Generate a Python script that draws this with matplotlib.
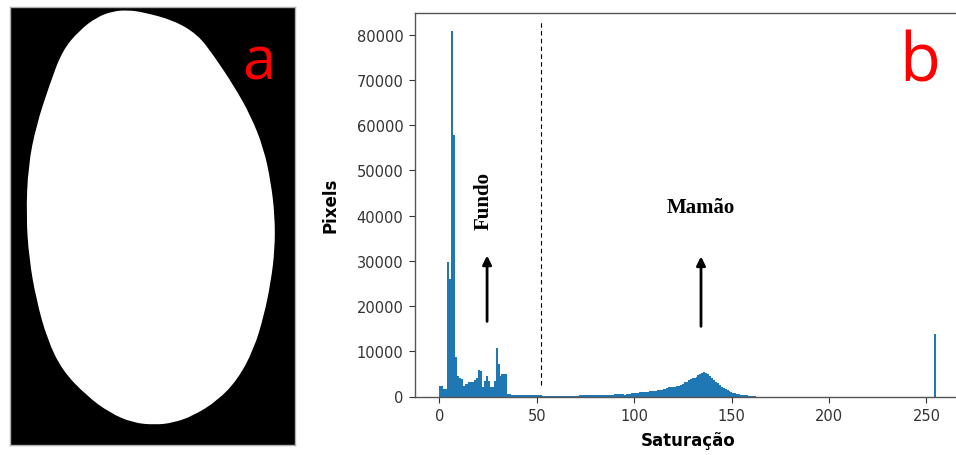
import numpy as np
import matplotlib
matplotlib.use("Agg")
import matplotlib.pyplot as plt
from matplotlib.patches import PathPatch
from matplotlib.path import Path

# ---------------- data ----------------
# histogram of saturation levels (0..255), counts per level
low_counts = [2300, 2300, 1600, 1600, 29700, 26000, 80800, 57800, 8800, 4600,
              4200, 3900, 2400, 2800, 2800, 3100, 3100, 3300, 3600, 4200,
              5800, 5600, 2000, 3400, 4600, 3500, 2000, 2200, 3400, 10700,
              7200, 4600, 4900, 4900, 4900, 600, 500, 350, 300, 300]
mid_counts = [280, 270, 260, 260, 250, 250, 250, 240, 240, 240,
              230, 230, 230, 220, 220, 220, 220, 210, 210, 210,
              210, 210, 200, 200, 200, 200, 200, 210, 210, 210,
              220, 220, 230, 230, 240, 240, 250, 260, 270, 280,
              290, 300, 320, 340, 360, 380, 400, 420, 430, 440,
              450, 450, 450, 450, 450]
hump_counts = [400, 450, 500, 600, 700, 750, 800, 850, 900, 950,
               1000, 1050, 1100, 1150, 1200, 1250, 1300, 1350, 1400, 1500,
               1550, 1650, 1900, 2000, 2100, 2150, 2200, 2300, 2400, 2600,
               2800, 3200, 3300, 3600, 3800, 4000, 4200, 4400, 4700, 4900,
               5300, 5500, 5100, 4900, 4500, 4200, 3700, 3300, 2900, 2500,
               2200, 1900, 1700, 1400, 1200, 1000, 800, 700, 600, 500,
               400, 350, 300, 250, 200, 150, 100, 50]
spike_255 = 13900

counts = low_counts + mid_counts + hump_counts
counts = counts + [0] * (255 - len(counts)) + [spike_255]
levels = np.arange(256)

xticks = [0, 50, 100, 150, 200, 250]
yticks = [0, 10000, 20000, 30000, 40000, 50000, 60000, 70000, 80000]

threshold = 52
fundo_x = 24.5
mamao_x = 134.3

# outline of the segmented fruit in panel (a) (image pixel coordinates)
shape_x = [128, 143, 173, 197, 213, 233, 250, 263, 270, 274, 274, 270, 263, 253,
           237, 217, 193, 173, 155, 133, 110, 87, 63, 48, 37, 30, 27, 29, 37,
           50, 63, 80, 97, 113]
shape_y = [12, 14, 22, 36, 57, 87, 117, 150, 183, 217, 250, 283, 317, 350,
           380, 401, 416, 423, 425, 423, 413, 396, 371, 340, 300, 260, 217, 167,
           127, 87, 52, 32, 19, 13]

# ---------------- figure ----------------
W, H = 956, 456
fig = plt.figure(figsize=(W / 100, H / 100), dpi=100)

# panel a
axa = fig.add_axes([10 / W, (H - 446) / H, 285 / W, 438 / H])
axa.set_facecolor("black")
pts = np.column_stack([shape_x, shape_y]).astype(float)
n = len(pts)
mids = (pts + np.roll(pts, -1, axis=0)) / 2.0
verts = [mids[-1]]
codes = [Path.MOVETO]
for i in range(n):
    verts += [pts[i], mids[i]]
    codes += [Path.CURVE3, Path.CURVE3]
axa.add_patch(PathPatch(Path(verts, codes), facecolor="white",
                        edgecolor="white", lw=1.2))
axa.set_xlim(10, 295)
axa.set_ylim(446, 8)
axa.set_xticks([])
axa.set_yticks([])
for s in axa.spines.values():
    s.set_color("#b0b0b0")
    s.set_linewidth(1)
axa.text(259, 80, "a", color="#ff0000", fontsize=43, family="Open Sans",
         ha="center", va="baseline")

# panel b
ax = fig.add_axes([414.5 / W, (H - 397.5) / H, (961 - 414.5) / W, (397.5 - 14) / H])
ax.hist(levels, bins=256, range=(0, 255), weights=counts, color="#1f77b4")
ax.set_xlim(-12.75, 267.75)
ax.set_ylim(0, 84840)
ax.set_xticks(xticks)
ax.set_yticks(yticks)
ax.tick_params(labelsize=10.5, length=4.5, colors="#333333", labelcolor="#333333")
for s in ax.spines.values():
    s.set_color("#555555")
    s.set_linewidth(1)

ax.set_xlabel("Saturação", fontsize=12, fontweight="bold", labelpad=6)
ax.set_ylabel("Pixels", fontsize=12, fontweight="bold", labelpad=12)

ax.vlines(threshold, 2500, 82800, colors="black", linestyles=(0, (4, 3)), lw=0.8)

ax.annotate("", xy=(fundo_x, 31800), xytext=(fundo_x, 16000),
            arrowprops=dict(arrowstyle="-|>", lw=2, color="black", mutation_scale=13))
ax.annotate("", xy=(mamao_x, 31600), xytext=(mamao_x, 14900),
            arrowprops=dict(arrowstyle="-|>", lw=2, color="black", mutation_scale=13))

ax.text(22.6, 43500, "Fundo", rotation=90, ha="center", va="center",
        family="Liberation Serif", fontweight="bold", fontsize=15)
ax.text(mamao_x, 42000, "Mamão", ha="center", va="center",
        family="Liberation Serif", fontweight="bold", fontsize=15)

fig.text(920 / W, (H - 82) / H, "b", color="#ff0000", fontsize=48,
         family="Open Sans", ha="center", va="baseline")

fig.savefig("out.png", dpi=100)
